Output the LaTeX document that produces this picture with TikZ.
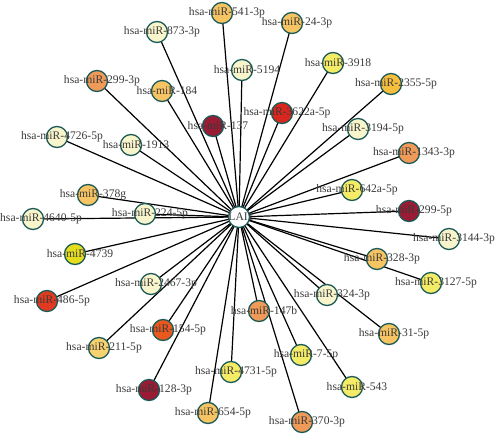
\documentclass[tikz,border=0pt]{standalone}
\usepackage{fontspec}
\setmainfont{Liberation Serif}
\usetikzlibrary{backgrounds}
\definecolor{pale}{HTML}{F8F5CC}
\definecolor{lor}{HTML}{F7C463}
\definecolor{lor2}{HTML}{F9D270}
\definecolor{gold}{HTML}{F6BE3E}
\definecolor{yel}{HTML}{F4EC66}
\definecolor{byel}{HTML}{E4DD1E}
\definecolor{orng}{HTML}{EF9A58}
\definecolor{dred}{HTML}{9A1B34}
\definecolor{red}{HTML}{D9271F}
\definecolor{red2}{HTML}{E23A20}
\definecolor{ored}{HTML}{E8581F}
\definecolor{rim}{HTML}{1C5A58}
\definecolor{txt}{HTML}{3A3A3A}
\tikzset{
  mir/.style={circle, draw=rim, line width=1.3pt, minimum size=21pt, inner sep=0pt},
  lbl/.style={text=txt, font=\fontsize{11.6}{12}\selectfont, inner sep=0pt, xshift=5pt},
  edge/.style={draw=black, line width=1.2pt}
}
\begin{document}
\begin{tikzpicture}[x=1pt,y=-1pt]
\useasboundingbox (0,0) rectangle (500,435);
\node[mir, fill=white] (hub) at (239,217) {};
\foreach \n/\x/\y/\c in {
  n873/157/32/pale, n541/222/13/lor, n24/292/23/lor, n5194/242/70/pale,
  n184/162/91/lor, n137/213/126/dred, n3622/282/113/red, n3918/333/63/yel,
  n2355/391/84/gold, n3194/358/129/pale, n1343/409/153/orng, n642/352/190/yel,
  n2995/409/211/dred, n3144/449/239/pale, n328/377/259/lor, n3127/431/283/yel,
  n324/327/295/pale, n31/389/334/lor, n543/352/387/yel, n7/301/355/yel,
  n370/302/422/orng, n147/259/311/orng, n4731/231/372/yel, n654/208/413/lor,
  n154/163/330/ored, n128/149/390/dred, n211/99/348/lor2, n486/47/301/red2,
  n2467/151/284/pale, n4739/75/254/byel, n4640/33/219/pale, n224/145/214/pale,
  n378/88/195/lor, n4726/57/137/pale, n1913/131/145/pale, n2993/97/81/orng}
  {\node[mir, fill=\c] (\n) at (\x,\y) {};}
\begin{pgfonlayer}{background}
\foreach \n in {n873,n541,n24,n5194,n184,n137,n3622,n3918,n2355,n3194,n1343,n642,
  n2995,n3144,n328,n3127,n324,n31,n543,n7,n370,n147,n4731,n654,n154,n128,n211,
  n486,n2467,n4739,n4640,n224,n378,n4726,n1913,n2993}
  {\draw[edge] (hub.center) -- (\n.center);}
\end{pgfonlayer}
\foreach \n/\t in {
  n873/873-3p, n541/541-3p, n24/24-3p, n5194/5194, n184/184, n137/137,
  n3622/3622a-5p, n3918/3918, n2355/2355-5p, n3194/3194-5p, n1343/1343-3p,
  n642/642a-5p, n2995/299-5p, n3144/3144-3p, n328/328-3p, n3127/3127-5p,
  n324/324-3p, n31/31-5p, n543/543, n7/7-5p, n370/370-3p, n147/147b,
  n4731/4731-5p, n654/654-5p, n154/154-5p, n128/128-3p, n211/211-5p,
  n486/486-5p, n2467/2467-3p, n4739/4739, n224/224-5p,
  n378/378g, n4726/4726-5p, n1913/1913, n2993/299-3p}
  {\node[lbl] (\n-l) at (\n.center) {hsa-miR-\t};}
\node[lbl, anchor=west, xshift=-5pt] (n4640-l) at (0,219) {hsa-miR-4640-5p};
\node[lbl, xshift=-3pt] (hub-l) at (hub.center) {LAI1};
\end{tikzpicture}
\end{document}
